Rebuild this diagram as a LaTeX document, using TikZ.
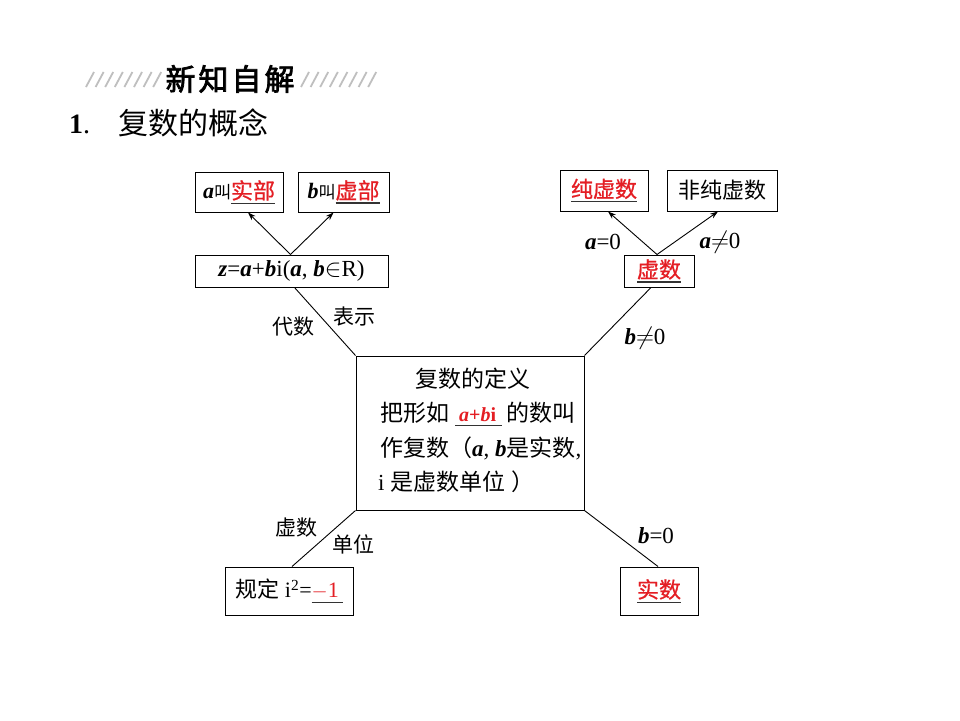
\documentclass[tikz,border=0pt]{standalone}
\usepackage{fontspec}
\setmainfont{Liberation Serif}
\newfontfamily\cjk{Noto Sans CJK SC}
\newfontfamily\cjkb[FakeBold=2.5]{Noto Sans CJK SC}
\newfontfamily\cjkr[FakeBold=0.8]{Noto Sans CJK SC}
\usetikzlibrary{arrows.meta}
\definecolor{myred}{RGB}{228,30,36}
\newcommand\hl[1]{\setbox0\hbox{\textcolor{myred}{#1}}\rlap{\color{black!80}\rule[-5pt]{\wd0}{1.3pt}}\box0}
\newcommand\ii[1]{\textbf{\textit{#1}}}
\begin{document}
\begin{tikzpicture}[x=1pt,y=-1pt,
 box/.style={draw,line width=1pt,inner sep=0pt,align=center,font=\fontsize{22}{24}\selectfont},
 lab/.style={inner sep=0pt,font=\fontsize{21}{24}\selectfont},
 llab/.style={inner sep=0pt,font=\fontsize{23}{24}\selectfont},
 txt/.style={inner sep=0pt,anchor=base west,font=\fontsize{23}{26}\selectfont},
 conn/.style={line width=0.9pt},
 arr/.style={line width=0.9pt,-{Stealth[length=8pt,width=5.5pt]}},
 hatch/.style={gray!50,line width=1.8pt}
]
\fill[white] (0,0) rectangle (960,720);
\useasboundingbox (0,0) rectangle (960,720);

% header
\foreach \i in {0,...,7} \draw[hatch] ({86+9.6*\i},87) -- ({94+9.6*\i},72);
\foreach \i in {0,...,7} \draw[hatch] ({301+9.6*\i},87) -- ({309+9.6*\i},72);
\node[inner sep=0pt,font=\cjkb\fontsize{30}{32}\selectfont] (hd) at (230,79) {新\hspace{3pt}知\hspace{3pt}自\hspace{3pt}解};
\node[inner sep=0pt,anchor=west,font=\fontsize{28}{30}\selectfont] (num) at (69,124) {\textbf{1}.};
\node[inner sep=0pt,anchor=west,font=\cjk\fontsize{30}{32}\selectfont] (title) at (118,123) {复数的概念};

% boxes
\node[box,minimum width=88,minimum height=40] (shi) at (239,192) {\ii{a}{\cjk\fontsize{17}{20}\selectfont 叫}\hl{\cjkr 实部}};
\node[box,minimum width=91,minimum height=40] (xu) at (343.5,192) {\ii{b}{\cjk\fontsize{17}{20}\selectfont 叫}\hl{\cjkr 虚部}};
\node[box,minimum width=193,minimum height=32,font=\fontsize{23}{24}\selectfont] (z) at (291.5,271) {\ii{z}=\ii{a}+\ii{b}i(\ii{a}, \ii{b}$\in$R)};
\node[box,minimum width=88,minimum height=41] (chun) at (604,190.5) {\hl{\cjkr 纯虚数}};
\node[box,minimum width=110,minimum height=41] (feichun) at (722,190.5) {{\cjk 非纯虚数}};
\node[box,minimum width=70,minimum height=32] (xushu) at (659,271) {\hl{\cjkr 虚数}};
\node[box,minimum width=228,minimum height=154] (def) at (470,433) {};
\node[box,minimum width=128,minimum height=48] (gui) at (289,591) {{\cjk 规定} i\textsuperscript{2}=\hl{$-$1\,}};
\node[box,minimum width=78,minimum height=48] (shishu) at (659,591) {\hl{\cjkr 实数}};

% definition text
\node[txt,anchor=base] (d1) at (473,387) {\cjk 复数的定义};
\node[txt] (d2) at (380,421) {{\cjk 把形如}\hspace{6pt}\hl{\hspace{4pt}\fontsize{20}{22}\selectfont\textbf{\textit{a}+\textit{b}i}\hspace{6pt}}\hspace{4pt}{\cjk 的数叫}};
\node[txt] (d3) at (380,456) {{\cjk 作复数（}\ii{a}, \ii{b}{\cjk 是实数},};
\node[txt] (d4) at (378,490) {i {\cjk 是虚数单位} {\cjk ）}};

% connectors
\draw[arr] ([xshift=-1]z.north) -- ([xshift=9]shi.south);
\draw[arr] ([xshift=-1]z.north) -- ([xshift=-10]xu.south);
\draw[arr] ([xshift=-2]xushu.north) -- ([xshift=4]chun.south);
\draw[arr] ([xshift=-2]xushu.north) -- ([xshift=-4]feichun.south);
\draw[conn] ([xshift=3]z.south) -- (def.north west);
\draw[conn] ([xshift=-8]xushu.south) -- (def.north east);
\draw[conn] (def.south west) -- ([xshift=3]gui.north);
\draw[conn] (def.south east) -- ([xshift=-1]shishu.north);

% labels
\node[lab] (l1) at (293,327) {\cjk 代数};
\node[lab] (l2) at (354,317) {\cjk 表示};
\node[llab] (l3) at (645,338) {\ii{b}$\neq$0};
\node[llab] (l4) at (603,242) {\ii{a}=0};
\node[llab] (l5) at (720,242) {\ii{a}$\neq$0};
\node[lab] (l6) at (296,528) {\cjk 虚数};
\node[lab] (l7) at (353,544) {\cjk 单位};
\node[llab] (l8) at (656,536) {\ii{b}=0};
\end{tikzpicture}
\end{document}
